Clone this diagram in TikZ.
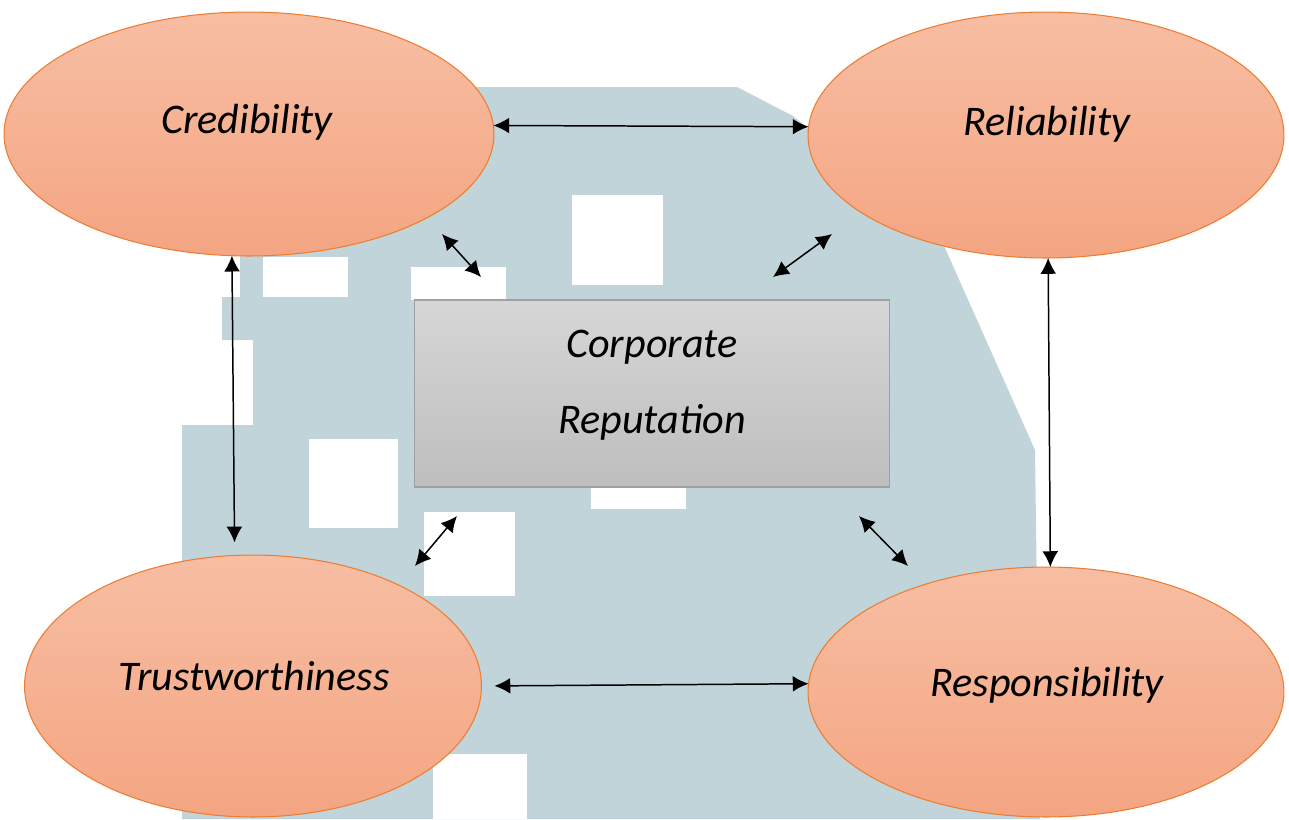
\documentclass[tikz,border=0pt]{standalone}
\usepackage{fontspec}
\setmainfont{Carlito}
\usetikzlibrary{shapes.geometric,arrows.meta}
\definecolor{wm}{RGB}{193,212,218}
\definecolor{peachtop}{RGB}{247,190,163}
\definecolor{peachbot}{RGB}{244,165,130}
\definecolor{orangeline}{RGB}{237,125,49}
\definecolor{greytop}{RGB}{214,214,214}
\definecolor{greybot}{RGB}{190,190,190}
\definecolor{greyline}{RGB}{160,160,160}
\tikzset{
  bubble/.style={ellipse, draw=orangeline, line width=0.6pt, top color=peachtop, bottom color=peachbot, inner sep=0pt, outer sep=0pt},
  panel/.style={rectangle, draw=greyline, line width=0.6pt, top color=greytop, bottom color=greybot, inner sep=0pt, outer sep=0pt},
  word/.style={anchor=base, font=\fontsize{24}{28}\selectfont\itshape},
  link/.style={{Latex[length=9pt,width=9pt]}-{Latex[length=9pt,width=9pt]}, line width=0.85pt},
}
\begin{document}
\begin{tikzpicture}[x=0.02cm, y=-0.02cm]
\useasboundingbox (0,0) rectangle (1289,819);
% faded logo in the background
\fill[wm] (470,87) -- (737,87) -- (793,116) -- (860,170) -- (945,248) -- (1035,450)
  -- (1040,819) -- (182,819) -- (182,425) -- (253,425) -- (253,340) -- (222,340)
  -- (222,297) -- (240,297) -- (240,230) -- cycle;
\foreach \x/\y/\u/\v in {263/257/348/297, 572/195/663/285, 411/267/506/300,
  591/487/686/509, 309/439/398/528, 424/512/515/596, 433/754/527/819}
  \fill[white] (\x,\y) rectangle (\u,\v);

% the four qualities and the centre box
\node[bubble, minimum width=9.8cm, minimum height=4.88cm] (cred) at (249,134) {};
\node[bubble, minimum width=9.52cm, minimum height=4.92cm] (rel) at (1046,135) {};
\node[bubble, minimum width=9.14cm, minimum height=5.24cm] (trust) at (253,686) {};
\node[bubble, minimum width=9.52cm, minimum height=5cm] (resp) at (1046,692) {};
\node[panel, minimum width=9.52cm, minimum height=3.74cm] (corp) at (652,393.5) {};

\node[word] (credtxt) at (247,133) {Credibility};
\node[word] (reltxt) at (1047,135) {Reliability};
\node[word] (trusttxt) at (254,690) {Trustworthiness};
\node[word] (resptxt) at (1047,696) {Responsibility};
\node[word] (corptxt) at (652,357) {Corporate};
\node[word] (reptxt) at (652,433) {Reputation};

% links round the outside
\draw[link] (cred.2.5) -- (rel.178.1);
\draw[link, shorten <=0.26cm] (trust.0.5) -- (resp.178.1);
\draw[link, shorten >=0.26cm] (cred.-98) -- (trust.98);
\draw[link] (rel.-89) -- (resp.88.5);

% short links towards the centre
\coordinate (a1) at (442,234); \coordinate (a2) at (481,277);
\coordinate (b1) at (773,277); \coordinate (b2) at (832,234);
\coordinate (c1) at (457,516); \coordinate (c2) at (415,566);
\coordinate (d1) at (859,516); \coordinate (d2) at (908,566);
\draw[link] (a1) -- (a2);
\draw[link] (b1) -- (b2);
\draw[link] (c1) -- (c2);
\draw[link] (d1) -- (d2);
\end{tikzpicture}
\end{document}
